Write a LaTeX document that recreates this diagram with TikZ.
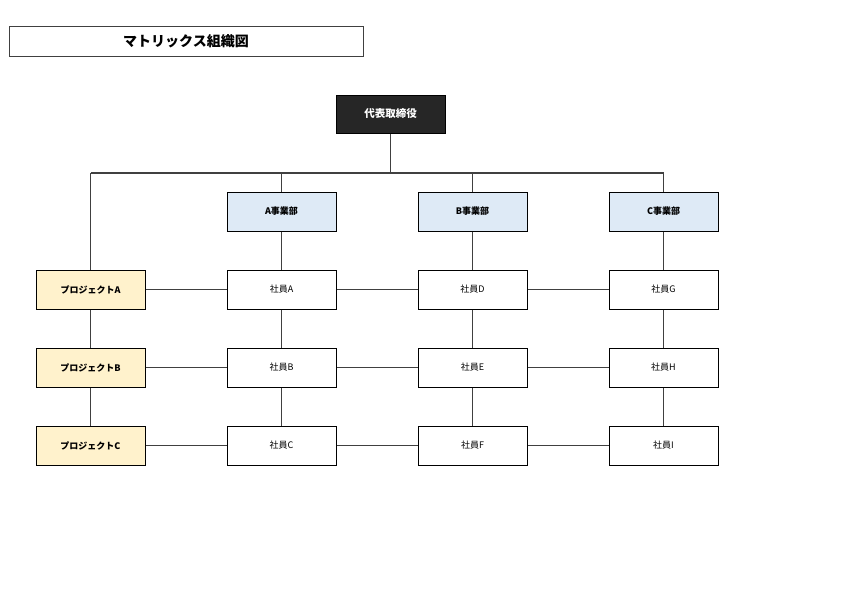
\documentclass[tikz,border=0pt]{standalone}
\usepackage{fontspec}
\setmainfont{Noto Sans CJK JP}
\definecolor{lineg}{HTML}{404040}
\definecolor{divblue}{HTML}{DEEAF6}
\definecolor{projy}{HTML}{FFF2CC}
\definecolor{topdark}{HTML}{262626}
\begin{document}
\begin{tikzpicture}[x=1pt,y=-1pt,
  box/.style={draw=black,line width=1pt,minimum width=109pt,minimum height=39pt,inner sep=0pt,font=\fontsize{9}{11}\selectfont},
  divbox/.style={box,fill=divblue,font=\fontsize{9}{11}\selectfont\bfseries},
  projbox/.style={box,fill=projy,font=\fontsize{9}{11}\selectfont\bfseries},
  empbox/.style={box,fill=white},
  topbox/.style={box,fill=topdark,text=white,minimum height=38pt,font=\fontsize{10.5}{12}\selectfont\bfseries},
  titlebox/.style={draw=lineg,line width=1pt,minimum width=354pt,minimum height=30pt,inner sep=0pt,font=\fontsize{14}{16}\selectfont\bfseries},
  conn/.style={draw=lineg,line width=1.4pt}]
\path[use as bounding box,fill=white] (0,0) rectangle (842,595);

\coordinate (bus) at (390.5,173);
\coordinate (busl) at (90.5,173);
\coordinate (busr) at (663.5,173);

\draw[conn] (390.5,114) -- (bus);
\draw[conn] (busl) -- (busr);
\draw[conn] (busl) -- (90.5,289.5);
\draw[conn] (busr) -- (663.5,211.5);
\draw[conn] (281.5,173) -- (281.5,211.5);
\draw[conn] (472.5,173) -- (472.5,211.5);

\node[titlebox] (title) at (186,41) {マトリックス組織図};
\node[topbox] (ceo) at (390.5,114) {代表取締役};

\node[divbox] (da) at (281.5,211.5) {A事業部};
\node[divbox] (db) at (472.5,211.5) {B事業部};
\node[divbox] (dc) at (663.5,211.5) {C事業部};

\node[projbox] (pa) at (90.5,289.5) {プロジェクトA};
\node[projbox] (pb) at (90.5,367.5) {プロジェクトB};
\node[projbox] (pc) at (90.5,445.5) {プロジェクトC};

\node[empbox] (ea) at (281.5,289.5) {社員A};
\node[empbox] (eb) at (281.5,367.5) {社員B};
\node[empbox] (ec) at (281.5,445.5) {社員C};
\node[empbox] (ed) at (472.5,289.5) {社員D};
\node[empbox] (ee) at (472.5,367.5) {社員E};
\node[empbox] (ef) at (472.5,445.5) {社員F};
\node[empbox] (eg) at (663.5,289.5) {社員G};
\node[empbox] (eh) at (663.5,367.5) {社員H};
\node[empbox] (ei) at (663.5,445.5) {社員I};

\draw[conn] (da) -- (ea);
\draw[conn] (db) -- (ed);
\draw[conn] (dc) -- (eg);

\draw[conn] (pa) -- (pb);
\draw[conn] (pb) -- (pc);
\draw[conn] (ea) -- (eb);
\draw[conn] (eb) -- (ec);
\draw[conn] (ed) -- (ee);
\draw[conn] (ee) -- (ef);
\draw[conn] (eg) -- (eh);
\draw[conn] (eh) -- (ei);

\draw[conn] (pa) -- (ea);
\draw[conn] (ea) -- (ed);
\draw[conn] (ed) -- (eg);
\draw[conn] (pb) -- (eb);
\draw[conn] (eb) -- (ee);
\draw[conn] (ee) -- (eh);
\draw[conn] (pc) -- (ec);
\draw[conn] (ec) -- (ef);
\draw[conn] (ef) -- (ei);
\end{tikzpicture}
\end{document}
